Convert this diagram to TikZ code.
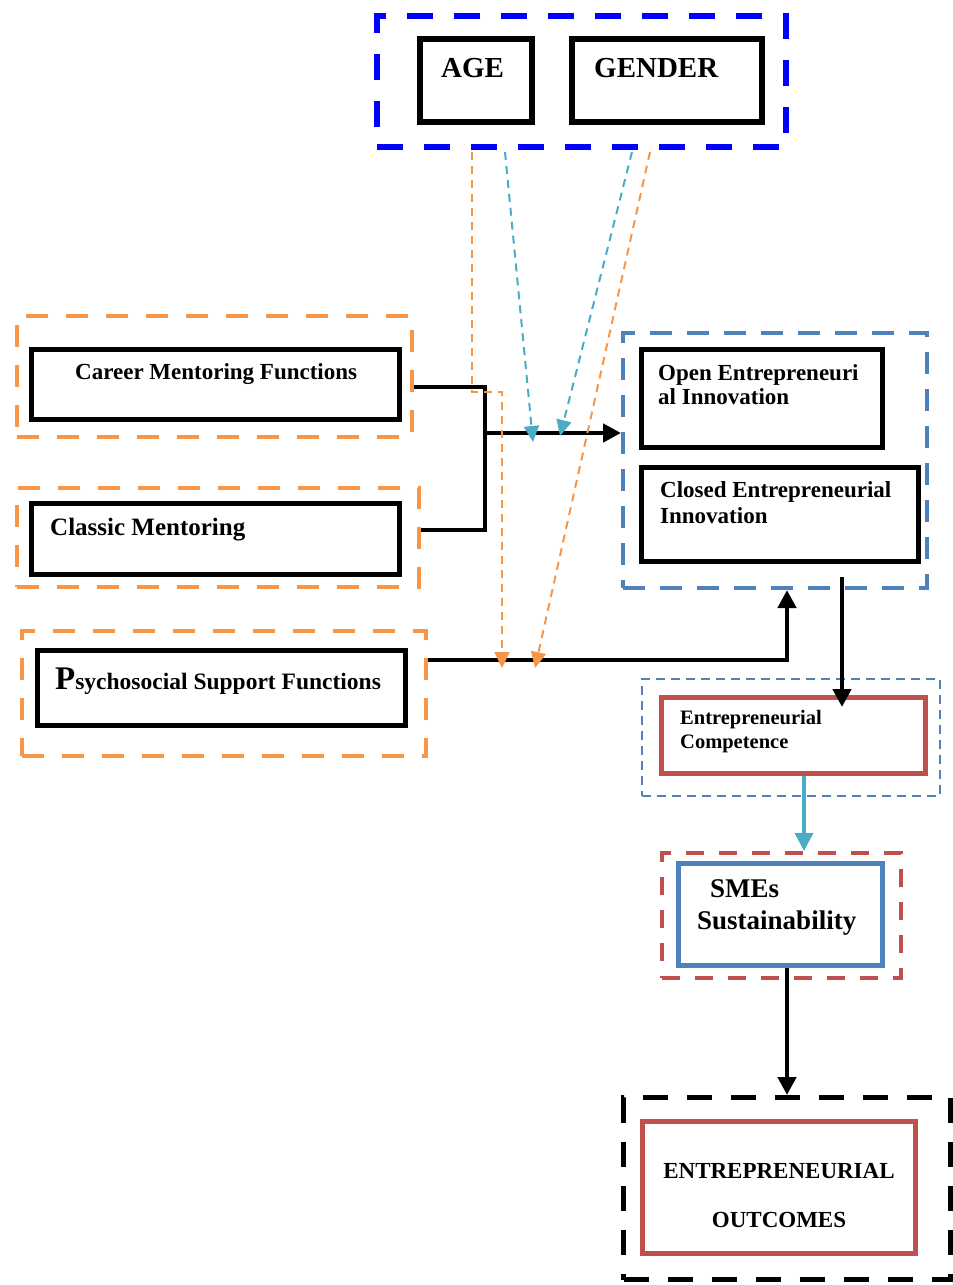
\documentclass[tikz,border=0pt]{standalone}
\usepackage{fontspec}
\setmainfont{Liberation Serif}
\usetikzlibrary{positioning, calc, arrows.meta}
\definecolor{orng}{RGB}{247,150,70}
\definecolor{steel}{RGB}{79,129,189}
\definecolor{brick}{RGB}{192,80,77}
\definecolor{teal}{RGB}{75,172,198}
\definecolor{pureblue}{RGB}{0,0,255}
\newcommand{\fsz}[2]{\fontsize{#1}{#2}\selectfont}

\begin{document}
\begin{tikzpicture}[
    x = 1pt, y = -1pt,
    box/.style = {
      draw, line width = 5pt, inner sep = 0pt
    },
    grp/.style = {
      draw, line width = 4pt, dash pattern = on 22pt off 18pt
    },
    txt/.style = {
      inner sep = 0pt, anchor = base west, align = left, font = \bfseries
    },
    conn/.style = {
      line width = 4.5pt, line join = miter
    },
    cue/.style = {
      line width = 2pt, dash pattern = on 8pt off 6pt
    },
    tip/.style = {
      -{Triangle[length = 18pt, width = 18pt]}
    },
    ctip/.style = {
      -{Triangle[length = 16pt, width = 15pt]}
    },
    ]
    \useasboundingbox (0,0) rectangle (953,1285);

    % moderators
    \node  [grp, pureblue, line width = 6pt, dash pattern = on 26pt off 21pt,
            minimum width = 409pt, minimum height = 131pt]  (modgrp)  at (581.5,81.5)  {};
    \node  [box, line width = 6pt, minimum width = 112pt, minimum height = 83pt]  (age)  at (476,80.5)  {};
    \node  [box, line width = 6pt, minimum width = 190pt, minimum height = 83pt]  (gender)  at (667,80.5)  {};
    \node  [txt, font = \bfseries\fsz{29}{32}]  (age-t)  at (441,77)  {AGE};
    \node  [txt, font = \bfseries\fsz{29}{32}]  (gender-t)  at (594,77)  {GENDER};

    % mentoring functions
    \node  [grp, orng, minimum width = 395pt, minimum height = 121pt]  (careergrp)  at (214.5,376.5)  {};
    \node  [box, minimum width = 368pt, minimum height = 70pt]  (career)  at (215.5,384.5)  {};
    \node  [txt, font = \bfseries\fsz{23}{26}]  (career-t)  at (75,379)  {Career Mentoring Functions};

    \node  [grp, orng, minimum width = 402pt, minimum height = 99pt]  (classicgrp)  at (218,537.5)  {};
    \node  [box, minimum width = 368pt, minimum height = 71pt]  (classic)  at (215.5,539)  {};
    \node  [txt, font = \bfseries\fsz{25}{28}]  (classic-t)  at (50,535)  {Classic Mentoring};

    \node  [grp, orng, minimum width = 404pt, minimum height = 125pt]  (psychgrp)  at (224,693.5)  {};
    \node  [box, minimum width = 368pt, minimum height = 75pt]  (psych)  at (221.5,688)  {};
    \node  [txt, font = \bfseries\fsz{23.5}{26}]  (psych-t)  at (55,689)
      {{\fsz{33}{36}P}sychosocial Support Functions};

    % innovation
    \node  [grp, steel, dash pattern = on 22pt off 15pt,
            minimum width = 304pt, minimum height = 255pt]  (innovgrp)  at (775,460.5)  {};
    \node  [box, minimum width = 241pt, minimum height = 98pt]  (open)  at (762,398.5)  {};
    \node  [box, minimum width = 277pt, minimum height = 94pt]  (closed)  at (780,514.5)  {};
    \node  [txt, font = \bfseries\fsz{23}{24}]  (open-t)  at (658,404)  {Open Entrepreneuri\\al Innovation};
    \node  [txt, font = \bfseries\fsz{23}{26}]  (closed-t)  at (660,523)  {Closed Entrepreneurial\\Innovation};

    % competence
    \node  [grp, steel, line width = 1.5pt, dash pattern = on 9pt off 6pt,
            minimum width = 298pt, minimum height = 117pt]  (compgrp)  at (791,737.5)  {};
    \node  [box, brick, minimum width = 264pt, minimum height = 76pt]  (comp)  at (793.5,735.5)  {};
    \node  [txt, font = \bfseries\fsz{20.5}{24}]  (comp-t)  at (680,748)  {Entrepreneurial\\Competence};

    % sustainability
    \node  [grp, brick, dash pattern = on 18pt off 15pt,
            minimum width = 239pt, minimum height = 125pt]  (smegrp)  at (781.5,915.5)  {};
    \node  [box, steel, minimum width = 204pt, minimum height = 102pt]  (sme)  at (780.5,914.5)  {};
    \node  [txt, font = \bfseries\fsz{27}{32}]  (sme-t)  at (697,929)  {\hspace*{13pt}SMEs\\Sustainability};

    % outcomes
    \node  [grp, black, line width = 5pt, dash pattern = on 25pt off 19pt,
            minimum width = 327pt, minimum height = 182pt]  (outgrp)  at (787,1188.5)  {};
    \node  [box, brick, minimum width = 273pt, minimum height = 132pt]  (outc)  at (779,1187.5)  {};
    \node  [txt, anchor = base, align = center, font = \bfseries\fsz{23}{49}]  (outc-t)  at (779,1227)
      {ENTREPRENEURIAL\\OUTCOMES};

    % draw paths
    \coordinate  (junc)  at (485,433);
    \draw  [conn]  ([yshift = -10.5pt]careergrp.east)  -|  (junc)  |-  ([yshift = 7.5pt]classicgrp.east);
    \draw  [conn, tip]  (junc)  --  (innovgrp.west |- junc);
    \draw  [conn, tip]  ([yshift = 33.5pt]psychgrp.east)  -|  ([xshift = 12pt]innovgrp.south);

    \coordinate  (drop)  at ([xshift = 62pt]closed.south);
    \draw  [conn, tip]  ([yshift = -13pt]drop)  --  ([yshift = -12pt]comp.north -| drop);
    \draw  [conn, teal, line width = 3.5pt, tip]  ([xshift = 10.5pt]comp.south)
      --  ([xshift = 10.5pt]comp.south |- smegrp.north);
    \draw  [conn, tip]  ([xshift = 6.5pt]sme.south)  --  ([xshift = 6.5pt]sme.south |- outgrp.north);

    % moderating cues
    \coordinate  (age-o)  at (472,152);
    \coordinate  (age-c)  at (505,152);
    \coordinate  (gen-c)  at (632,152);
    \coordinate  (gen-o)  at (650,152);
    \coordinate  (hit-a)  at (533,442);
    \coordinate  (hit-b)  at (560,436);
    \coordinate  (hit-c)  at (502,668);
    \coordinate  (hit-d)  at (535,668);
    \draw  [cue, orng, ctip]  (age-o)  --  ++(0,240)  -|  (hit-c);
    \draw  [cue, orng, ctip]  (gen-o)  --  (hit-d);
    \draw  [cue, teal, ctip]  (age-c)  --  (hit-a);
    \draw  [cue, teal, ctip]  (gen-c)  --  (hit-b);
\end{tikzpicture}
\end{document}
